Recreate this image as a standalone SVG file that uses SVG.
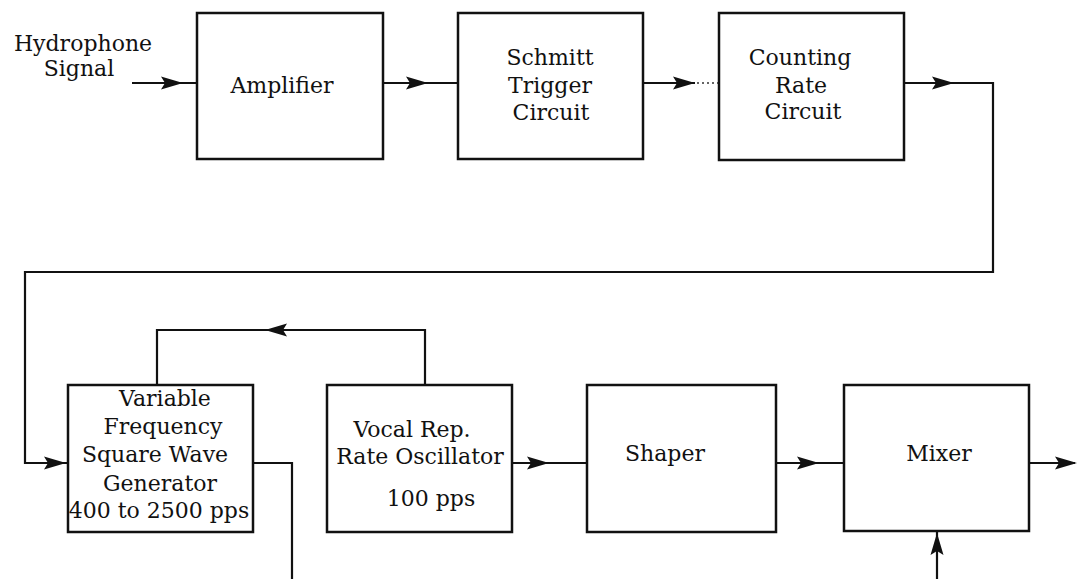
<svg xmlns="http://www.w3.org/2000/svg" xmlns:xlink="http://www.w3.org/1999/xlink" width="1080" height="579" viewBox="0 0 1080 579">
<style>
  .box { fill: #ffffff; stroke: #111111; stroke-width: 2.5; }
  .wire { fill: none; stroke: #111111; stroke-width: 2.2; }
  .dots { fill: none; stroke: #333333; stroke-width: 1.5; stroke-dasharray: 2 3; }
  .lbl { font-family: "DejaVu Serif", "Liberation Serif", serif; font-size: 22px; fill: #111111; text-anchor: middle; }
  .ah { fill: #111111; }
</style>
<defs>
  <path id="ah" class="ah" d="M0,0 L-22,-6.5 L-18,0 L-22,6.5 Z"/>
</defs>
<rect width="1080" height="579" fill="#ffffff"/>

<g id="connectors">
  <!-- Hydrophone signal -> Amplifier -->
  <path class="wire" d="M132,83 H197"/>
  <use xlink:href="#ah" transform="translate(183,83)"/>
  <!-- Amplifier -> Schmitt -->
  <path class="wire" d="M383,83 H458"/>
  <use xlink:href="#ah" transform="translate(428,83)"/>
  <!-- Schmitt -> Counting -->
  <path class="wire" d="M643,83 H695"/>
  <path class="dots" d="M697,83 H719"/>
  <use xlink:href="#ah" transform="translate(695,83)"/>
  <!-- Counting -> Variable Frequency -->
  <path class="wire" d="M904,83 H993 V272 H25 V463 H68"/>
  <use xlink:href="#ah" transform="translate(954,83)"/>
  <use xlink:href="#ah" transform="translate(66,463)"/>
  <!-- Vocal Rep -> Variable (feedback) -->
  <path class="wire" d="M425,385 V330 H157 V385"/>
  <use xlink:href="#ah" transform="translate(265,330) rotate(180)"/>
  <!-- Variable output down -->
  <path class="wire" d="M253,463 H292 V579"/>
  <!-- Vocal -> Shaper -->
  <path class="wire" d="M512,463 H587"/>
  <use xlink:href="#ah" transform="translate(549,463)"/>
  <!-- Shaper -> Mixer -->
  <path class="wire" d="M776,463 H844"/>
  <use xlink:href="#ah" transform="translate(819,463)"/>
  <!-- Mixer output -->
  <path class="wire" d="M1029,463 H1075"/>
  <use xlink:href="#ah" transform="translate(1077,463)"/>
  <!-- Mixer bottom input -->
  <path class="wire" d="M937,579 V531"/>
  <use xlink:href="#ah" transform="translate(937,533) rotate(-90)"/>
</g>

<g id="input-label">
  <text class="lbl" x="83" y="51">Hydrophone</text>
  <text class="lbl" x="79" y="76">Signal</text>
</g>

<g id="amplifier">
  <rect class="box" x="197" y="13" width="186" height="146"/>
  <text class="lbl" x="282" y="93">Amplifier</text>
</g>

<g id="schmitt">
  <rect class="box" x="458" y="13" width="185" height="146"/>
  <text class="lbl" x="550" y="65">Schmitt</text>
  <text class="lbl" x="550" y="93">Trigger</text>
  <text class="lbl" x="551" y="120">Circuit</text>
</g>

<g id="counting">
  <rect class="box" x="719" y="13" width="185" height="147"/>
  <text class="lbl" x="800" y="65">Counting</text>
  <text class="lbl" x="801" y="93">Rate</text>
  <text class="lbl" x="803" y="119">Circuit</text>
</g>

<g id="variable">
  <rect class="box" x="68" y="385" width="185" height="147"/>
  <text class="lbl" x="165" y="406">Variable</text>
  <text class="lbl" x="163" y="434">Frequency</text>
  <text class="lbl" x="155" y="462">Square Wave</text>
  <text class="lbl" x="160" y="491">Generator</text>
  <text class="lbl" x="159" y="518">400 to 2500 pps</text>
</g>

<g id="vocal">
  <rect class="box" x="327" y="385" width="185" height="147"/>
  <text class="lbl" x="412" y="437">Vocal Rep.</text>
  <text class="lbl" x="420" y="464">Rate Oscillator</text>
  <text class="lbl" x="431" y="506">100 pps</text>
</g>

<g id="shaper">
  <rect class="box" x="587" y="385" width="189" height="147"/>
  <text class="lbl" x="665" y="461">Shaper</text>
</g>

<g id="mixer">
  <rect class="box" x="844" y="385" width="185" height="146"/>
  <text class="lbl" x="939" y="461">Mixer</text>
</g>
</svg>
